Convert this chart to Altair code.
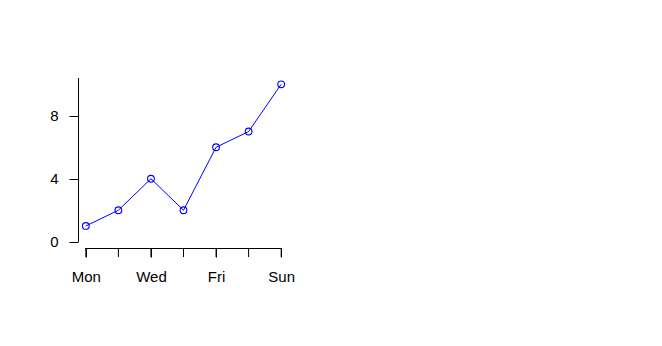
import altair as alt
import pandas as pd

days = ["Mon", "Tue", "Wed", "Thu", "Fri", "Sat", "Sun"]
values = [1, 2, 4, 2, 6, 7, 10]
y_ticks = [0, 4, 8]
x_ticks = [0, 1, 2, 3, 4, 5, 6]

df = pd.DataFrame({"idx": list(range(len(days))), "day": days, "value": values})
tick_df = pd.DataFrame({"idx": x_ticks})

W, H = 211, 170
xscale = alt.Scale(domain=[-0.24, 6.24], nice=False, zero=False)
yscale = alt.Scale(domain=[-0.4, 10.4], nice=False, zero=False)

label_expr = "datum.value % 2 == 0 ? " + str(days) + "[datum.value] : ' '"

x_enc = alt.X("idx:Q", scale=xscale, title=None,
              axis=alt.Axis(values=x_ticks, labelExpr=label_expr, domain=False,
                            grid=False, tickSize=9, labelPadding=24,
                            labelBaseline="alphabetic", labelFontSize=15,
                            labelOverlap=False, labelFlush=False, ticks=True))
y_enc = alt.Y("value:Q", scale=yscale, title=None,
              axis=alt.Axis(values=y_ticks, domain=False, grid=False, tickSize=9,
                            labelPadding=11, labelFontSize=15, labelBaseline="middle"))

line = alt.Chart(df).mark_line(color="#0000FF", strokeWidth=1).encode(x=x_enc, y=y_enc)
pts = alt.Chart(df).mark_point(shape="circle", filled=False, color="#0000FF",
                               size=45, strokeWidth=1.1, opacity=1).encode(x="idx:Q", y="value:Q")

yaxis_line = alt.Chart(df).mark_rule(color="black", strokeWidth=1).encode(
    x=alt.value(0.5), y=alt.datum(0), y2=alt.datum(10.4))
xaxis_line = alt.Chart(df).mark_rule(color="black", strokeWidth=1).encode(
    y=alt.value(H + 0.5), x=alt.datum(0), x2=alt.datum(6))
xticks = alt.Chart(tick_df).mark_rule(color="black", strokeWidth=1).encode(
    x="idx:Q", y=alt.value(H), y2=alt.value(H + 9))

chart = alt.layer(line, pts, yaxis_line, xaxis_line, xticks).properties(
    width=W, height=H,
    background="white",
    autosize=alt.AutoSizeParams(type="none"),
    padding={"left": 78, "top": 78, "right": 662 - 78 - W, "bottom": 346 - 78 - H},
).configure_view(strokeWidth=0, stroke=None).configure_axis(
    labelFont="Liberation Sans", labelColor="black", tickColor="black", tickWidth=1
)

chart.save("out.html", embed_options={"renderer": "svg", "actions": False})
